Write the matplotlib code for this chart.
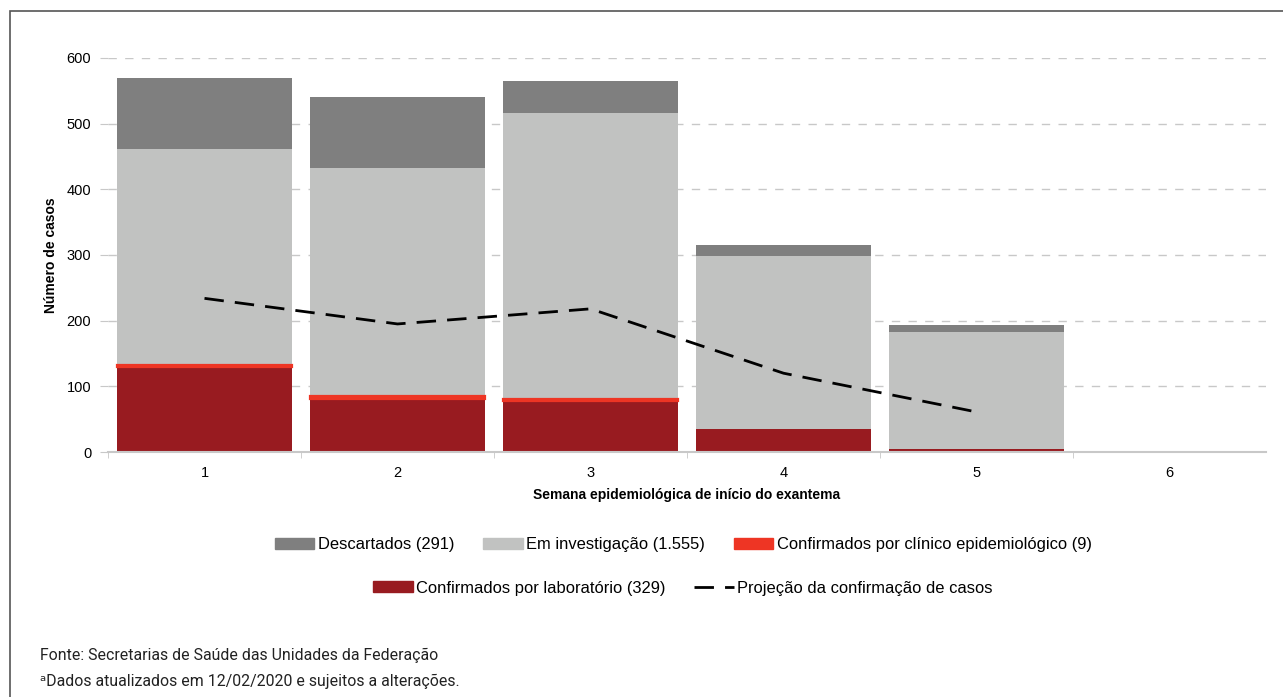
import matplotlib
matplotlib.use("Agg")
import matplotlib.pyplot as plt
from matplotlib.patches import Patch, Rectangle
from matplotlib.lines import Line2D

semanas = [1, 2, 3, 4, 5, 6]
laboratorio = [130, 81, 78, 35, 5, 0]
clinico = [2, 4, 3, 0, 0, 0]
investigacao = [330, 348, 436, 263, 178, 0]
descartados = [108, 108, 48, 17, 10, 0]
proj_semanas = [1, 2, 3, 4, 5]
projecao = [234, 195, 218, 120, 61]

c_desc = "#7f7f7f"
c_inv = "#c1c2c1"
c_clin = "#ee3524"
c_lab = "#981b20"

plt.rcParams["font.family"] = ["Liberation Sans", "DejaVu Sans"]

fig = plt.figure(figsize=(12.83, 6.97), dpi=100)
ax = fig.add_axes([108 / 1283, 1 - 452 / 697, (1266 - 108) / 1283, 394 / 697])

w = 0.91
b1 = laboratorio
b2 = [a + b for a, b in zip(b1, clinico)]
b3 = [a + b for a, b in zip(b2, investigacao)]
ax.bar(semanas, laboratorio, width=w, color=c_lab, zorder=2)
ax.bar(semanas, investigacao, bottom=b2, width=w, color=c_inv, zorder=2)
ax.bar(semanas, descartados, bottom=b3, width=w, color=c_desc, zorder=2)
clin = [c if c > 0 else float("nan") for c in clinico]
ax.bar(semanas, clin, bottom=b1, width=w, color=c_clin, edgecolor=c_clin,
       linewidth=1.6, zorder=2.5)
ax.plot(proj_semanas, projecao, color="black", lw=2, dashes=(7, 4), zorder=3)

ax.set_xlim(0.5, 6.5)
ax.set_ylim(0, 600)
ax.set_yticks(range(0, 601, 100))
ax.set_xticks(semanas)
ax.set_xticks([x + 0.5 for x in range(6)], minor=True)
ax.tick_params(axis="x", which="major", length=0, pad=10, labelsize=10.5)
ax.tick_params(axis="x", which="minor", length=4, color="#c8c8c8", direction="out")
ax.tick_params(axis="y", length=6, color="#c8c8c8", labelsize=10.5, pad=6)
ax.yaxis.grid(True, color="#c8c8c8", linestyle=(0, (6, 6)), linewidth=1, zorder=0)
for s in ["top", "right", "left"]:
    ax.spines[s].set_visible(False)
ax.spines["bottom"].set_color("#c8c8c8")
ax.spines["bottom"].set_linewidth(1.5)

ax.set_ylabel("Número de casos", fontweight="bold", fontsize=10, labelpad=6)
ax.set_xlabel("Semana epidemiológica de início do exantema", fontweight="bold",
              fontsize=10, labelpad=6)

h1 = [Patch(color=c_desc), Patch(color=c_inv), Patch(color=c_clin)]
l1 = ["Descartados (291)", "Em investigação (1.555)", "Confirmados por clínico epidemiológico (9)"]
h2 = [Patch(color=c_lab), Line2D([], [], color="black", lw=2, dashes=(7, 4))]
l2 = ["Confirmados por laboratório (329)", "Projeção da confirmação de casos"]
kw = dict(frameon=False, fontsize=11.9, handlelength=2.4, handleheight=0.6,
          handletextpad=0.2, columnspacing=1.75, loc="center")
fig.legend(h1, l1, ncol=3, bbox_to_anchor=(683 / 1283, 1 - 545 / 697), **kw)
fig.legend(h2, l2, ncol=2, bbox_to_anchor=(683 / 1283, 1 - 588 / 697), **kw)

fig.patches.append(Rectangle((10 / 1283, -0.05), 1.1, 1 - 11 / 697 + 0.05,
                             transform=fig.transFigure, fill=False,
                             edgecolor="#555555", linewidth=1.2))

foot = ["Liberation Sans Narrow", "Roboto", "DejaVu Sans"]
fig.text(40 / 1283, 1 - 655 / 697, "Fonte: Secretarias de Saúde das Unidades da Federação",
         fontsize=11.4, family=foot, color="#222222", va="center")
fig.text(40 / 1283, 1 - 681 / 697, "ᵃDados atualizados em 12/02/2020 e sujeitos a alterações.",
         fontsize=11.4, family=foot, color="#222222", va="center")

fig.savefig("out.png", dpi=100)
